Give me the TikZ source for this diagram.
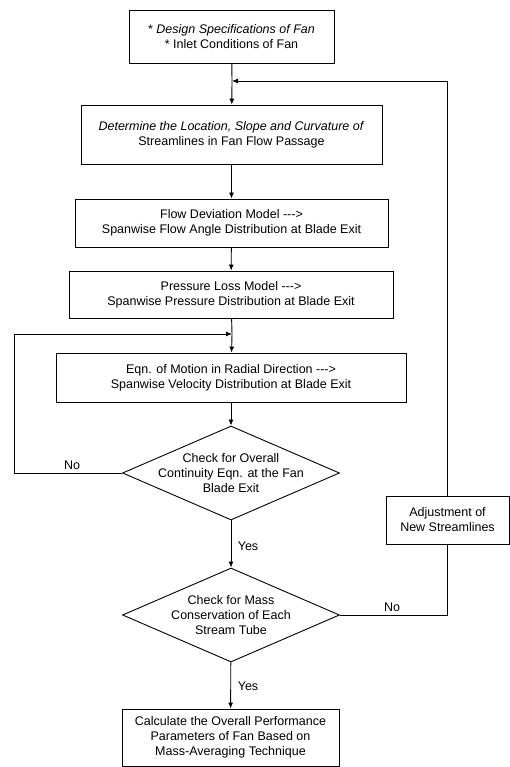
\documentclass[tikz,border=0pt]{standalone}
\usepackage{fontspec}
\setmainfont{Liberation Sans}
\usetikzlibrary{shapes.geometric,arrows.meta}

\begin{document}
\begin{tikzpicture}[x=1pt,y=-1pt]
        \tikzset{box/.style = {shape=rectangle, draw, line width=0.9pt,
                align=center, inner sep=0pt, font=\fontsize{12.5}{15}\selectfont}}
        \tikzset{check/.style = {shape=diamond, draw, line width=0.9pt,
                inner sep=0pt, minimum width=217pt, minimum height=94pt}}
        \tikzset{ctext/.style = {align=center, font=\fontsize{12.5}{15}\selectfont}}
        \tikzset{lbl/.style = {font=\fontsize{12.5}{15}\selectfont}}
        \tikzset{edge/.style = {-, line width=0.9pt}}
        \tikzset{arrow/.style = {-{Latex[length=6pt,width=5pt]}, line width=0.9pt}}

        \useasboundingbox (0,0) rectangle (510,767);

        \node[box, minimum width=205pt, minimum height=53pt] (spec) at (231.5,36.5)
                {* \textit{Design Specifications of Fan}\\* Inlet Conditions of Fan};
        \node[box, minimum width=301pt, minimum height=59pt] (stream) at (231.5,134.5)
                {\textit{Determine the Location, Slope and Curvature of}\\Streamlines in Fan Flow Passage};
        \node[box, minimum width=313pt, minimum height=48pt] (dev) at (231.5,223)
                {Flow Deviation Model -{}-{}->\\Spanwise Flow Angle Distribution at Blade Exit};
        \node[box, minimum width=324pt, minimum height=47pt] (loss) at (231,294.5)
                {Pressure Loss Model -{}-{}->\\Spanwise Pressure Distribution at Blade Exit};
        \node[box, minimum width=350pt, minimum height=49pt] (motion) at (231,377.5)
                {Eqn. of Motion in Radial Direction -{}-{}->\\Spanwise Velocity Distribution at Blade Exit};

        \node[check] (chk1) at (231,473) {};
        \node[ctext] (chk1t) at (chk1) {Check for Overall\\Continuity Eqn. at the Fan\\Blade Exit};
        \node[check] (chk2) at (231,615) {};
        \node[ctext] (chk2t) at (chk2) {Check for Mass\\Conservation of Each\\Stream Tube};

        \node[box, minimum width=123pt, minimum height=48pt] (adj) at (447.5,520)
                {Adjustment of\\New Streamlines};
        \node[box, minimum width=217pt, minimum height=57pt] (perf) at (230.5,737.5)
                {Calculate the Overall Performance\\Parameters of Fan Based on\\Mass-Averaging Technique};

        \coordinate (m1) at (232,81);
        \coordinate (m2) at (232,334);
        \coordinate (lft) at (14,473);

        \draw[edge] (spec) to (m1);
        \draw[arrow] (m1) to (stream);
        \draw[arrow] (stream) to (dev);
        \draw[arrow] (dev) to (loss);
        \draw[edge] (loss) to (m2);
        \draw[arrow] (m2) to (motion);
        \draw[arrow] (motion) to (chk1);
        \draw[arrow] (chk1) to (chk2);
        \draw[arrow] (chk2) to (perf);

        \draw[edge] (chk1.west) to (lft);
        \draw[arrow] (lft) |- (m2);
        \draw[edge] (chk2.east) -| (adj.south);
        \draw[arrow] (adj.north) |- (m1);

        \node[lbl] (no1) at (72,465) {No};
        \node[lbl] (yes1) at (248,546) {Yes};
        \node[lbl] (no2) at (392,607) {No};
        \node[lbl] (yes2) at (248,686) {Yes};
\end{tikzpicture}
\end{document}
